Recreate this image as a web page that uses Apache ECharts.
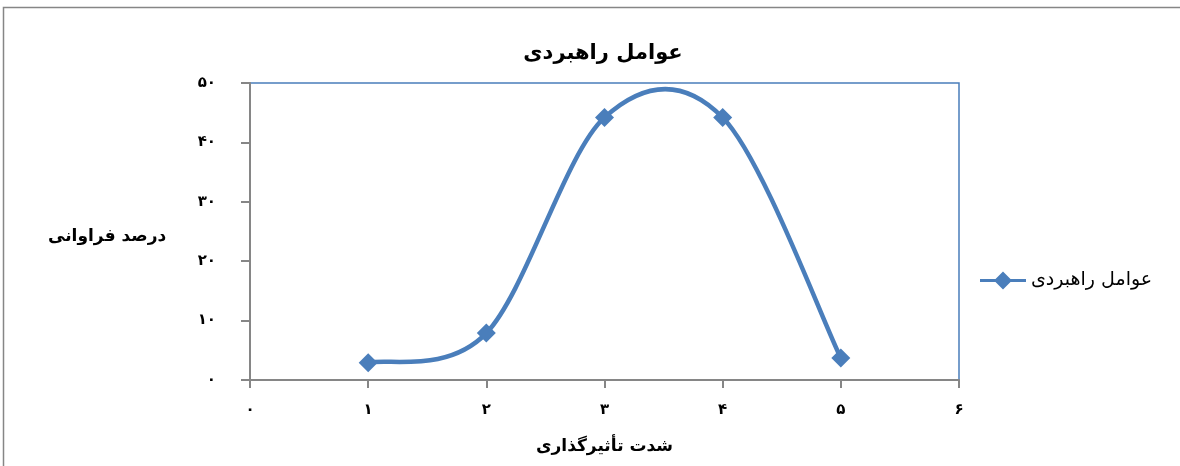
<!DOCTYPE html>
<html>
<head>
<meta charset="utf-8">
<script src="https://cdn.jsdelivr.net/npm/echarts@6/dist/echarts.min.js"></script>
<style>
html,body{margin:0;padding:0;background:#fff;}
#c{width:1180px;height:466px;}
</style>
</head>
<body>
<div id="c"></div>
<script>
const titleText = 'عوامل راهبردی';
const seriesName = 'عوامل راهبردی';
const xAxisName = 'شدت تأثیرگذاری';
const yAxisName = 'درصد فراوانی';
const xValues = [1, 2, 3, 4, 5];
const yValues = [2.9, 7.9, 44.2, 44.2, 3.7];
const xTickLabels = ['۰', '۱', '۲', '۳', '۴', '۵', '۶'];
const yTickLabels = ['۰', '۱۰', '۲۰', '۳۰', '۴۰', '۵۰'];

const FONT = "'DejaVu Sans', 'Noto Sans', sans-serif";
const BLUE = '#4a7ebb';
const GRAY = '#868686';

const points = xValues.map((x, i) => [x, yValues[i]]);

// Excel-style smoothed curve (Catmull-Rom -> cubic Bezier), positioned by the chart's own scales
function renderCurve(params, api) {
  if (params.dataIndex !== 0) return null;
  const P = points.map(p => api.coord(p));
  const n = P.length;
  let d = 'M' + P[0][0] + ' ' + P[0][1];
  for (let i = 0; i < n - 1; i++) {
    const p0 = P[Math.max(i - 1, 0)], p1 = P[i], p2 = P[i + 1], p3 = P[Math.min(i + 2, n - 1)];
    const c1x = p1[0] + (p2[0] - p0[0]) / 6, c1y = p1[1] + (p2[1] - p0[1]) / 6;
    const c2x = p2[0] - (p3[0] - p1[0]) / 6, c2y = p2[1] - (p3[1] - p1[1]) / 6;
    d += ' C' + c1x + ' ' + c1y + ' ' + c2x + ' ' + c2y + ' ' + p2[0] + ' ' + p2[1];
  }
  return {
    type: 'path',
    shape: { pathData: d },
    style: { fill: 'none', stroke: BLUE, lineWidth: 4.5, lineCap: 'round', lineJoin: 'round' },
    silent: true
  };
}

const chart = echarts.init(document.getElementById('c'));
chart.setOption({
  animation: false,
  backgroundColor: '#fff',
  title: {
    text: titleText,
    left: 598, top: 38, textAlign: 'center',
    textStyle: { fontFamily: FONT, fontSize: 21, fontWeight: 'bold', color: '#000' }
  },
  graphic: [
    { type: 'rect', shape: { x: 3.5, y: 7.5, width: 1300, height: 600 },
      style: { fill: 'none', stroke: GRAY, lineWidth: 1.5 }, silent: true, z: -1 },
    { type: 'text', left: 48, top: 228,
      style: { text: yAxisName, font: 'bold 17px ' + FONT, fill: '#000' } }
  ],
  legend: {
    left: 975, top: 266,
    itemWidth: 46, itemHeight: 18, itemGap: 6,
    icon: 'path://M0,7.5 L46,7.5 L46,10.5 L0,10.5 Z M23,0 L32,9 L23,18 L14,9 Z',
    textStyle: { fontFamily: FONT, fontSize: 19, color: '#000' },
    data: [seriesName]
  },
  grid: {
    left: 250, right: 221, top: 83, bottom: 86,
    show: true, borderColor: BLUE, borderWidth: 1.5, backgroundColor: '#fff'
  },
  xAxis: {
    type: 'value', min: 0, max: 6, interval: 1,
    name: xAxisName, nameLocation: 'middle', nameGap: 58,
    nameTextStyle: { fontFamily: FONT, fontSize: 17, fontWeight: 'bold', color: '#000' },
    axisLine: { show: true, lineStyle: { color: GRAY, width: 2 } },
    axisTick: { show: true, length: 8, lineStyle: { color: GRAY, width: 2 } },
    axisLabel: {
      margin: 23, fontFamily: FONT, fontSize: 15, fontWeight: 'bold', color: '#000',
      formatter: v => xTickLabels[Math.round(v)]
    },
    splitLine: { show: false }
  },
  yAxis: {
    type: 'value', min: 0, max: 50, interval: 10,
    axisLine: { show: true, lineStyle: { color: GRAY, width: 2 } },
    axisTick: { show: true, length: 9, lineStyle: { color: GRAY, width: 2 } },
    axisLabel: {
      margin: 34, fontFamily: FONT, fontSize: 15, fontWeight: 'bold', color: '#000',
      formatter: v => yTickLabels[Math.round(v / 10)]
    },
    splitLine: { show: false }
  },
  series: [
    {
      name: seriesName + ' curve',
      type: 'custom',
      renderItem: renderCurve,
      data: points,
      clip: false,
      z: 2
    },
    {
      name: seriesName,
      type: 'line',
      data: points,
      symbol: 'diamond',
      symbolSize: 19,
      lineStyle: { width: 0, opacity: 0 },
      itemStyle: { color: BLUE },
      z: 3
    }
  ]
});
</script>
</body>
</html>
